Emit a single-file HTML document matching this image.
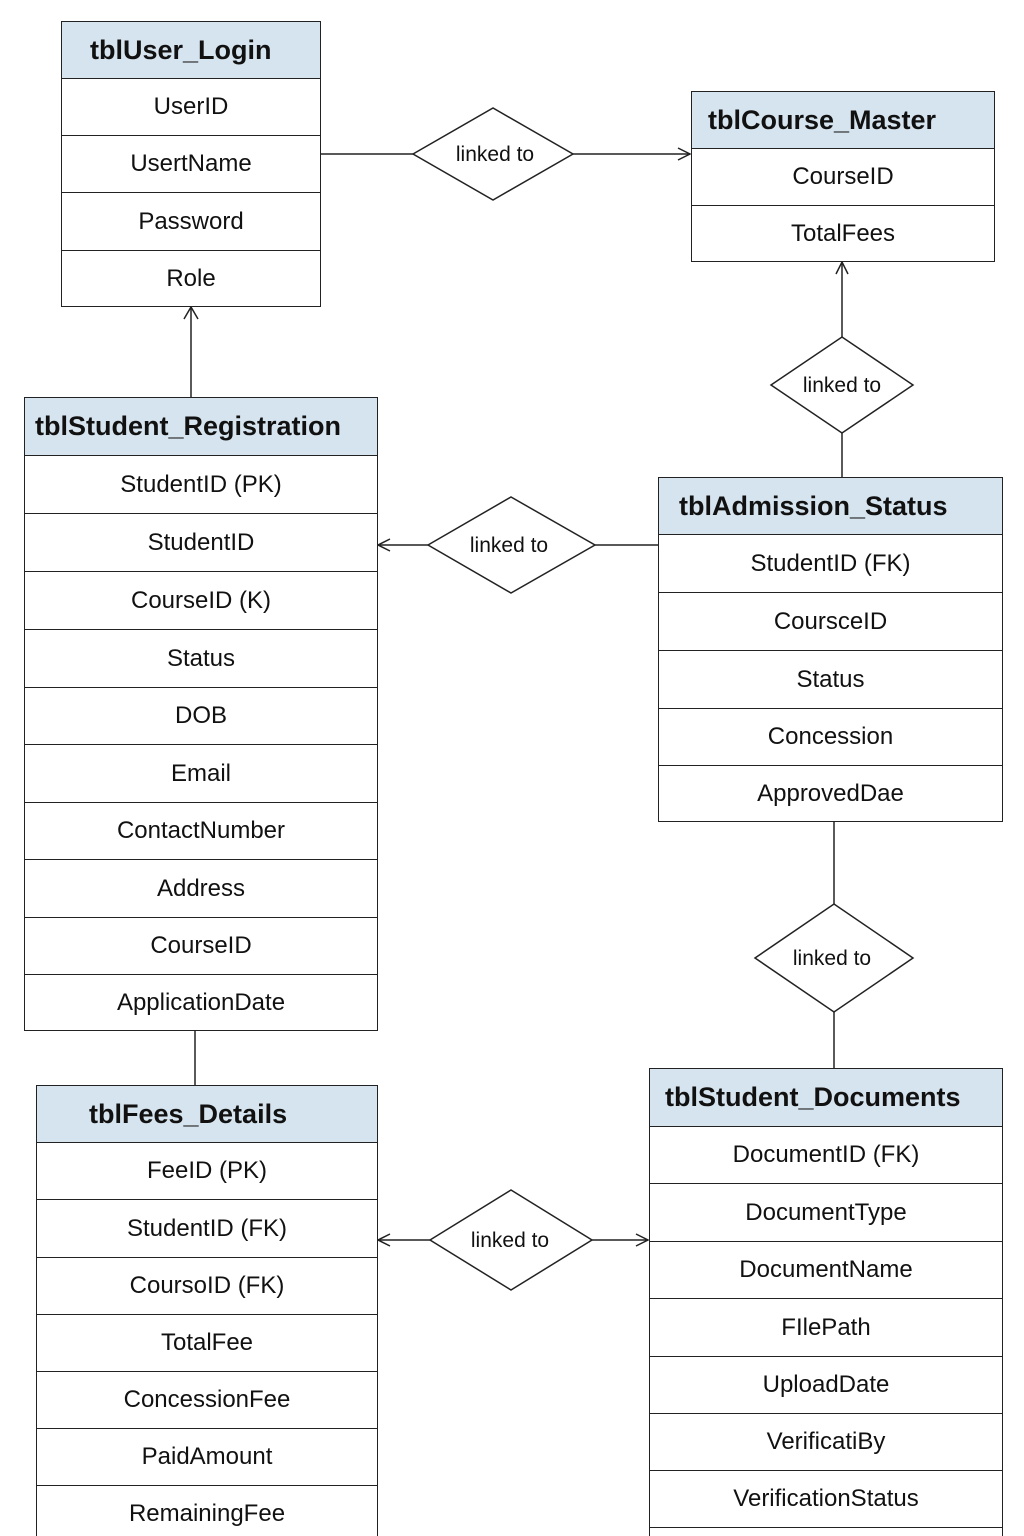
<!DOCTYPE html>
<html style="margin:0;overflow:hidden;width:1024px;height:1536px"><head><meta charset="utf-8"><style>
body{margin:0;width:1024px;height:1536px;overflow:hidden;background:#fff;font-family:"Liberation Sans",Arial,sans-serif}
#w{position:relative;width:1024px;height:1536px;overflow:hidden}
.t{position:absolute;border:1.5px solid #222;box-sizing:border-box;background:#fff;overflow:hidden}
.t div{border-top:1.5px solid #222;box-sizing:border-box;display:flex;align-items:center;justify-content:center;font-size:24px;color:#111;flex-shrink:0}
.t div.h{border-top:none;background:#d6e4ef;font-weight:bold;font-size:27px;justify-content:flex-start;padding-left:10px}
.open{border-bottom:none!important}
svg{position:absolute;left:0;top:0}
</style></head><body><div id="w">
<svg width="1024" height="1536" viewBox="0 0 1024 1536" fill="none" stroke="#222" stroke-width="1.5">
<line x1="320" y1="154" x2="413" y2="154"/><line x1="573" y1="154" x2="690" y2="154"/><polyline points="678,148 690,154 678,160"/>
<polygon points="413,154 493,108 573,154 493,200" fill="#fff"/>
<line x1="191" y1="397" x2="191" y2="307"/><polyline points="184,319 191,307 198,319"/>
<line x1="378" y1="545" x2="428" y2="545"/><line x1="595" y1="545" x2="658" y2="545"/><polyline points="390,539 378,545 390,551"/>
<polygon points="428,545 511,497 595,545 511,593" fill="#fff"/>
<line x1="842" y1="262" x2="842" y2="337"/><line x1="842" y1="433" x2="842" y2="477"/><polyline points="836,274 842,262 848,274"/>
<polygon points="771,385 842,337 913,385 842,433" fill="#fff"/>
<line x1="834" y1="821" x2="834" y2="904"/><line x1="834" y1="1012" x2="834" y2="1068"/>
<polygon points="755,958 834,904 913,958 834,1012" fill="#fff"/>
<line x1="195" y1="1030" x2="195" y2="1085"/>
<line x1="378" y1="1240" x2="430" y2="1240"/><line x1="592" y1="1240" x2="648" y2="1240"/>
<polyline points="390,1234 378,1240 390,1246"/><polyline points="636,1234 648,1240 636,1246"/>
<polygon points="430,1240 511,1190 592,1240 511,1290" fill="#fff"/>
<g fill="#111" stroke="none" font-family="Liberation Sans, Arial, sans-serif" font-size="21" text-anchor="middle">
<text x="495" y="161">linked to</text><text x="509" y="552">linked to</text><text x="842" y="392">linked to</text><text x="832" y="965">linked to</text><text x="510" y="1247">linked to</text>
</g></svg>

<div class="t" style="left:61px;top:21px;width:260px;height:286px">
<div class="h" style="height:56px;padding-left:28px">tblUser_Login</div>
<div style="height:57px">UserID</div><div style="height:57px">UsertName</div><div style="height:58px">Password</div><div style="height:56px">Role</div></div>

<div class="t" style="left:691px;top:91px;width:304px;height:171px">
<div class="h" style="height:56px;padding-left:16px">tblCourse_Master</div>
<div style="height:57px">CourseID</div><div style="height:56px">TotalFees</div></div>

<div class="t" style="left:24px;top:397px;width:354px;height:634px">
<div class="h" style="height:57px">tblStudent_Registration</div>
<div style="height:58px">StudentID (PK)</div><div style="height:58px">StudentID</div><div style="height:58px">CourseID (K)</div><div style="height:58px">Status</div><div style="height:57px">DOB</div><div style="height:58px">Email</div><div style="height:57px">ContactNumber</div><div style="height:58px">Address</div><div style="height:57px">CourseID</div><div style="height:57px">ApplicationDate</div></div>

<div class="t" style="left:658px;top:477px;width:345px;height:345px">
<div class="h" style="height:56px;padding-left:20px">tblAdmission_Status</div>
<div style="height:58px">StudentID (FK)</div><div style="height:58px">CoursceID</div><div style="height:58px">Status</div><div style="height:57px">Concession</div><div style="height:57px">ApprovedDae</div></div>

<div class="t open" style="left:649px;top:1068px;width:354px;height:468px">
<div class="h" style="height:57px;padding-left:15px">tblStudent_Documents</div>
<div style="height:57px">DocumentID (FK)</div><div style="height:58px">DocumentType</div><div style="height:57px">DocumentName</div><div style="height:58px">FIlePath</div><div style="height:57px">UploadDate</div><div style="height:57px">VerificatiBy</div><div style="height:57px">VerificationStatus</div><div style="height:20px"></div></div>

<div class="t open" style="left:36px;top:1085px;width:342px;height:451px">
<div class="h" style="height:56px;padding-left:52px">tblFees_Details</div>
<div style="height:57px">FeeID (PK)</div><div style="height:58px">StudentID (FK)</div><div style="height:57px">CoursoID (FK)</div><div style="height:57px">TotalFee</div><div style="height:57px">ConcessionFee</div><div style="height:57px">PaidAmount</div><div style="height:57px">RemainingFee</div></div>
</div></body></html>
